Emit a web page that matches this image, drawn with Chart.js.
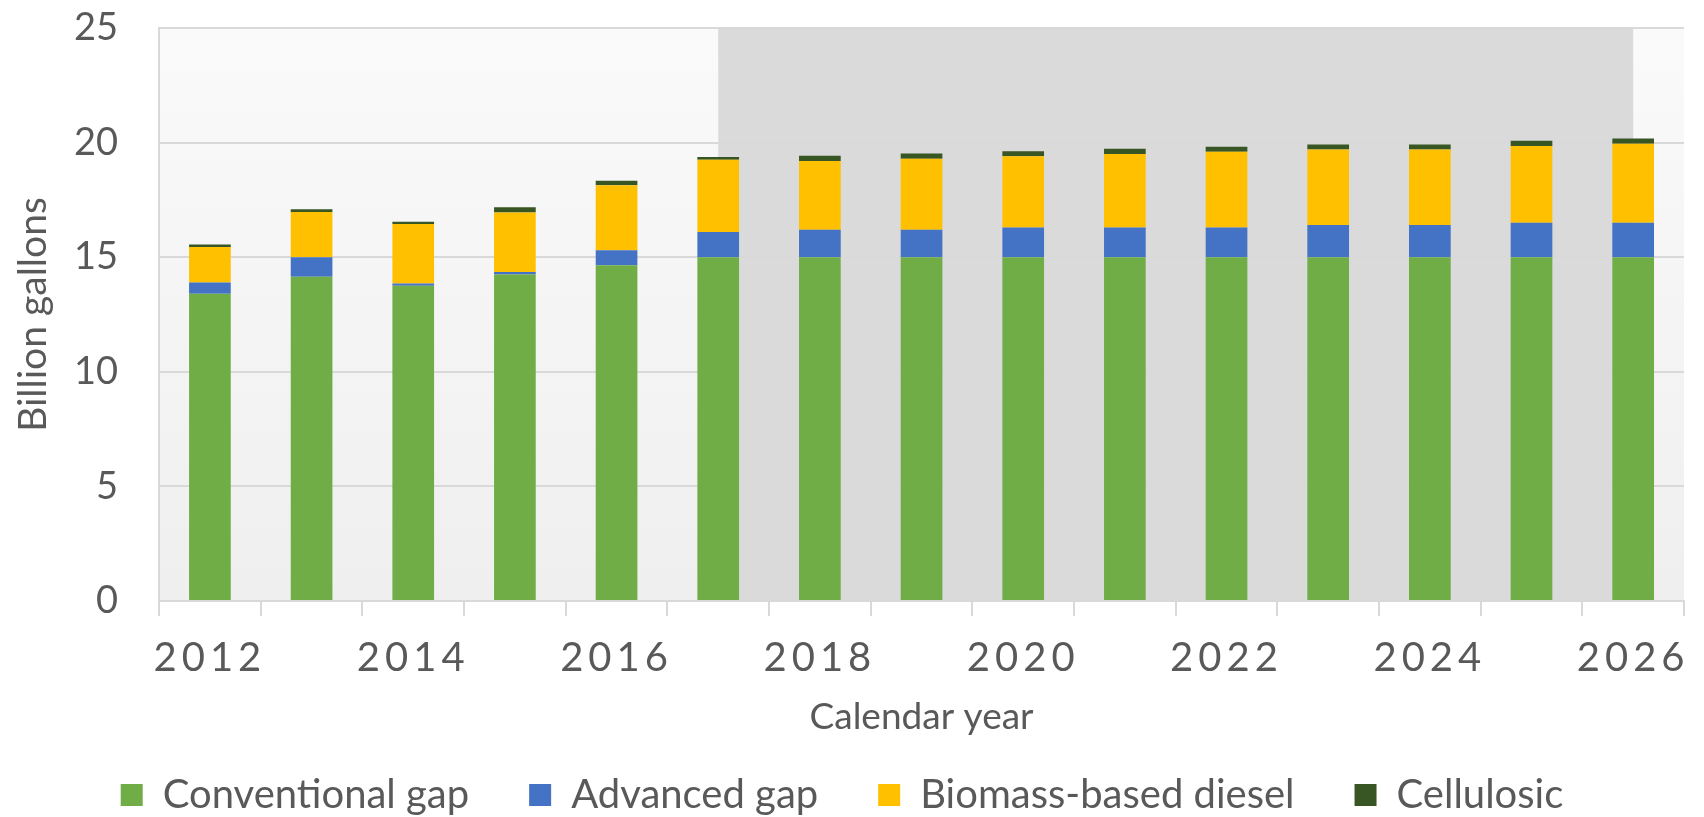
<!DOCTYPE html>
<html>
<head>
<meta charset="utf-8">
<script src="https://cdn.jsdelivr.net/npm/chart.js@4.4.1/dist/chart.umd.min.js"></script>
<style>
  html, body { margin: 0; padding: 0; background: #fff; }
  #wrap { width: 1704px; height: 817px; position: relative; }
</style>
</head>
<body>
<div id="wrap"><canvas id="rfsChart"></canvas></div>
<script>
const years = ['2012', '2013', '2014', '2015', '2016', '2017', '2018', '2019', '2020', '2021', '2022', '2023', '2024', '2025', '2026'];
const conventionalGap = [13.4, 14.15, 13.75, 14.25, 14.65, 15, 15, 15, 15, 15, 15, 15, 15, 15, 15];
const advancedGap = [0.5, 0.85, 0.1, 0.1, 0.65, 1.1, 1.2, 1.2, 1.3, 1.3, 1.3, 1.4, 1.4, 1.5, 1.5];
const biomassDiesel = [1.55, 1.97, 2.6, 2.6, 2.84, 3.15, 3.0, 3.1, 3.1, 3.2, 3.3, 3.3, 3.3, 3.35, 3.45];
const cellulosic = [0.1, 0.12, 0.1, 0.23, 0.2, 0.12, 0.23, 0.22, 0.22, 0.23, 0.22, 0.22, 0.22, 0.23, 0.23];
const yTicks = [0, 5, 10, 15, 20, 25];
const shadeFrom = '2017', shadeTo = '2026';

const txt = '#595959';
const gridCol = '#d9d9d9';

// plot background: light gradient plus the shaded projection band
const plotBg = {
    id: 'plotBg',
    beforeDraw(chart) {
        const { ctx, chartArea: a, scales } = chart;
        ctx.save();
        ctx.letterSpacing = '0px';
        const g = ctx.createLinearGradient(0, a.top, 0, a.bottom);
        g.addColorStop(0, '#fafafa');
        g.addColorStop(1, '#efefef');
        ctx.fillStyle = g;
        ctx.fillRect(a.left, a.top, a.right - a.left, a.bottom - a.top);
        const x0 = scales.x.getPixelForValue(years.indexOf(shadeFrom));
        const x1 = scales.x.getPixelForValue(years.indexOf(shadeTo));
        ctx.fillStyle = '#dadada';
        ctx.fillRect(x0, a.top, x1 - x0, a.bottom - a.top);
        ctx.restore();
    },
    // x tick labels are drawn after datasets (z: 1), spaced out like the original
    afterDatasetsDraw(chart) { chart.ctx.letterSpacing = '5px'; },
    afterDraw(chart) { chart.ctx.letterSpacing = '0px'; }
};

const ctx = document.getElementById('rfsChart').getContext('2d');
new Chart(ctx, {
    type: 'bar',
    data: {
        labels: years,
        datasets: [
            { label: 'Conventional gap', data: conventionalGap, backgroundColor: '#70ad47' },
            { label: 'Advanced gap', data: advancedGap, backgroundColor: '#4472c4' },
            { label: 'Biomass-based diesel', data: biomassDiesel, backgroundColor: '#ffc000' },
            { label: 'Cellulosic', data: cellulosic, backgroundColor: '#375623' }
        ]
    },
    options: {
        responsive: true, maintainAspectRatio: false, animation: false,
        datasets: { bar: { categoryPercentage: 1, barPercentage: 0.41, borderWidth: 0 } },
        layout: { padding: { left: 0, right: 20, top: 28, bottom: -8 } },
        scales: {
            x: {
                stacked: true,
                grid: { offset: true, drawOnChartArea: false, drawTicks: true, tickLength: 15, color: gridCol, lineWidth: 2 },
                border: { color: gridCol, width: 2 },
                ticks: {
                    z: 1, autoSkip: false, maxRotation: 0, padding: 18, color: txt,
                    font: { family: 'Lato', size: 40 },
                    callback: (v, i) => i % 2 === 0 ? years[i] : ''
                },
                title: { display: true, text: 'Calendar year', color: txt, font: { family: 'Lato', size: 37 }, padding: { top: -5.4, bottom: -24 } }
            },
            y: {
                stacked: true, min: 0, max: 25,
                afterBuildTicks: (s) => { s.ticks = yTicks.map(v => ({ value: v })); },
                grid: { color: gridCol, lineWidth: 2, drawTicks: true, tickLength: 36, tickColor: 'rgba(0,0,0,0)' },
                border: { color: gridCol, width: 2 },
                ticks: { padding: 5, color: txt, font: { family: 'Lato', size: 38 } },
                title: { display: true, text: 'Billion gallons', color: txt, font: { family: 'Lato', size: 39 }, padding: { top: 9.6, bottom: 12.6 } }
            }
        },
        plugins: {
            legend: {
                position: 'bottom',
                labels: { color: txt, font: { family: 'Lato', size: 40 }, boxWidth: 22, boxHeight: 22, padding: 60 }
            },
            tooltip: { enabled: false }
        }
    },
    plugins: [plotBg]
});
</script>
</body>
</html>
